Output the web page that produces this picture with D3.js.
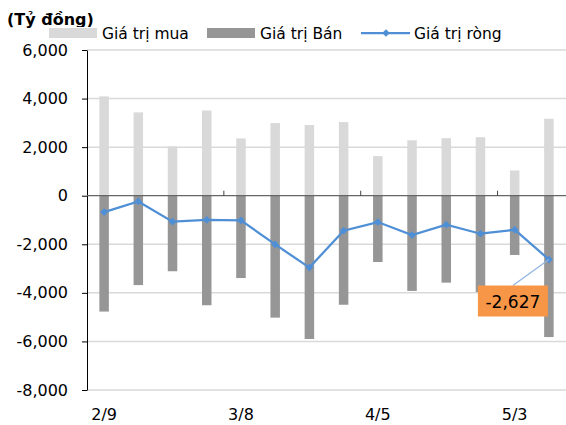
<!DOCTYPE html>
<html>
<head>
<meta charset="utf-8">
<script src="https://cdn.jsdelivr.net/npm/d3@7"></script>
<style>
  body { margin: 0; background: #fff; }
  svg text { font-family: "DejaVu Sans", sans-serif; fill: #000; }
</style>
</head>
<body>
<div id="chart"></div>
<script>
// Weekly data (2020), values in billion VND
var categories = ["2/9", "2/16", "2/23", "3/1", "3/8", "3/15", "3/22", "3/29", "4/5", "4/12", "4/19", "4/26", "5/3", "5/10"];
var buyValues = [4090, 3430, 2030, 3510, 2360, 2990, 2910, 3030, 1630, 2280, 2370, 2410, 1040, 3170];
var sellValues = [-4770, -3680, -3110, -4510, -3390, -5020, -5900, -4490, -2730, -3920, -3580, -3970, -2440, -5820];
var netValues = [-675, -235, -1070, -990, -1015, -2005, -2960, -1440, -1085, -1620, -1195, -1565, -1400, -2627];
var yTicks = [-8000, -6000, -4000, -2000, 0, 2000, 4000, 6000];
var seriesNames = ["Giá trị mua", "Giá trị Bán", "Giá trị ròng"];
var unitLabel = "(Tỷ đồng)";

var width = 566;
var height = 425;
var plot = { left: 87, right: 566, top: 50, bottom: 390 };

var buyColor = "#d9d9d9";
var sellColor = "#969696";
var lineColor = "#4f8fd6";

// excel style numbers: 1,234 with a plain hyphen for negatives
var fmt = function(d) { return d3.format(",")(d).replace("\u2212", "-"); };

var svg = d3.select("#chart")
  .append("svg")
  .attr("width", width)
  .attr("height", height);

var x = d3.scaleBand().domain(categories).range([plot.left, plot.right]);
var y = d3.scaleLinear().domain([-8000, 6000]).range([plot.bottom, plot.top]);
var barWidth = 9.5;

// grid lines
svg.selectAll(".grid")
  .data(yTicks.filter(function(d) { return d !== 0; }))
  .enter().append("line")
  .attr("x1", plot.left)
  .attr("x2", plot.right)
  .attr("y1", function(d) { return y(d); })
  .attr("y2", function(d) { return y(d); })
  .style("stroke", "#d9d9d9")
  .style("stroke-width", "1.5px");

// buy bars (up) and sell bars (down), same slot
svg.selectAll(".buy")
  .data(buyValues)
  .enter().append("rect")
  .attr("x", function(d, i) { return x(categories[i]) + x.bandwidth() / 2 - barWidth / 2; })
  .attr("y", function(d) { return y(d); })
  .attr("width", barWidth)
  .attr("height", function(d) { return y(0) - y(d); })
  .style("fill", buyColor);

svg.selectAll(".sell")
  .data(sellValues)
  .enter().append("rect")
  .attr("x", function(d, i) { return x(categories[i]) + x.bandwidth() / 2 - barWidth / 2; })
  .attr("y", y(0))
  .attr("width", barWidth)
  .attr("height", function(d) { return y(d) - y(0); })
  .style("fill", sellColor);

// y axis
var yAxis = svg.append("g")
  .attr("transform", "translate(" + plot.left + ",0)")
  .call(d3.axisLeft(y).tickValues(yTicks).tickFormat(fmt).tickSize(5).tickSizeOuter(0));
yAxis.select(".domain").style("stroke", "#000");
yAxis.selectAll(".tick line").style("stroke", "#000");
yAxis.selectAll(".tick text")
  .attr("x", -19)
  .style("font-size", "16px")
  .style("font-family", "DejaVu Sans");

// zero line + category ticks every 4 weeks
svg.append("line")
  .attr("x1", plot.left)
  .attr("x2", plot.right)
  .attr("y1", y(0))
  .attr("y2", y(0))
  .style("stroke", "#666")
  .style("stroke-width", "1.3px");

svg.selectAll(".ctick")
  .data(categories.filter(function(d, i) { return i > 0 && i % 4 === 0; }))
  .enter().append("line")
  .attr("x1", function(d) { return x(d); })
  .attr("x2", function(d) { return x(d); })
  .attr("y1", y(0))
  .attr("y2", y(0) - 5)
  .style("stroke", "#444")
  .style("stroke-width", "1px");

// category labels
svg.selectAll(".xlabel")
  .data(categories.filter(function(d, i) { return i % 4 === 0; }))
  .enter().append("text")
  .attr("x", function(d) { return x(d) + x.bandwidth() / 2; })
  .attr("y", 420)
  .attr("text-anchor", "middle")
  .style("font-size", "16px")
  .text(function(d) { return d; });

// net line
var line = d3.line()
  .x(function(d, i) { return x(categories[i]) + x.bandwidth() / 2; })
  .y(function(d) { return y(d); });

svg.append("path")
  .datum(netValues)
  .attr("d", line)
  .style("fill", "none")
  .style("stroke", lineColor)
  .style("stroke-width", "2.25px");

var diamond = d3.symbol().type(d3.symbolSquare).size(30);
svg.selectAll(".marker")
  .data(netValues)
  .enter().append("path")
  .attr("d", diamond)
  .attr("transform", function(d, i) {
    return "translate(" + (x(categories[i]) + x.bandwidth() / 2) + "," + y(d) + ") rotate(45)";
  })
  .style("fill", lineColor);

// callout for the last value
var last = netValues.length - 1;
var lx = x(categories[last]) + x.bandwidth() / 2;
var ly = y(netValues[last]);
var boxW = 70, boxH = 31;
var bx = lx - 1 - boxW, by = ly + 26;

svg.append("line")
  .attr("x1", bx + 35)
  .attr("y1", by)
  .attr("x2", lx)
  .attr("y2", ly)
  .style("stroke", "#8db4e2")
  .style("stroke-width", "1.2px");

svg.append("rect")
  .attr("x", bx)
  .attr("y", by)
  .attr("width", boxW)
  .attr("height", boxH)
  .style("fill", "#f79646");

svg.append("text")
  .attr("x", bx + boxW / 2)
  .attr("y", by + 22)
  .attr("text-anchor", "middle")
  .style("font-size", "17px")
  .text(fmt(netValues[last]));

// unit label, partly hidden behind the legend
svg.append("text")
  .attr("x", 7)
  .attr("y", 25)
  .style("font-size", "16px")
  .style("font-weight", "bold")
  .text(unitLabel);

svg.append("rect")
  .attr("x", 40)
  .attr("y", 27)
  .attr("width", 526)
  .attr("height", 14)
  .style("fill", "#fff");

// legend
var legend = svg.append("g");
legend.append("rect").attr("x", 49).attr("y", 28).attr("width", 48).attr("height", 10).style("fill", buyColor);
legend.append("rect").attr("x", 207).attr("y", 28).attr("width", 48).attr("height", 10).style("fill", sellColor);
legend.append("line")
  .attr("x1", 361).attr("x2", 410).attr("y1", 33).attr("y2", 33)
  .style("stroke", lineColor).style("stroke-width", "2.25px");
legend.append("path")
  .attr("d", diamond)
  .attr("transform", "translate(386,33) rotate(45)")
  .style("fill", lineColor);

var legendX = [102, 260, 414];
legend.selectAll(".ltext")
  .data(seriesNames)
  .enter().append("text")
  .attr("x", function(d, i) { return legendX[i]; })
  .attr("y", 39)
  .style("font-size", "15.5px")
  .text(function(d) { return d; });
</script>
</body>
</html>
